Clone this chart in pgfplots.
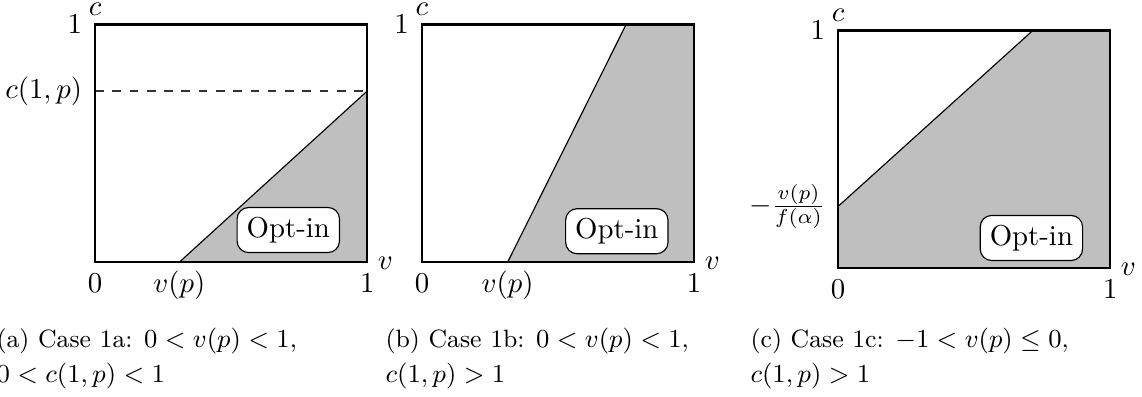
\documentclass[border=0pt]{standalone}
\usepackage{pgfplots}
\pgfplotsset{compat=1.18}

\pgfplotsset{
  panel/.style={
    scale only axis,
    width=94.5pt, height=82.5pt,
    xmin=0, xmax=1, ymin=0, ymax=1,
    axis on top,
    axis line style={thick},
    major tick length=0pt,
    xticklabel style={anchor=base, yshift=-10.4pt},
    yticklabel style={anchor=east, xshift=-1pt},
    xlabel={$v$}, ylabel={$c$},
    xlabel style={at={(rel axis cs:1,0)}, anchor=west, inner sep=3.5pt, yshift=-0.5pt},
    ylabel style={at={(rel axis cs:0,1)}, anchor=base, rotate=-90, yshift=3.1pt, inner sep=0pt},
  },
}
\tikzset{optin/.style={draw, thin, fill=white, rounded corners=4pt, inner sep=3.33pt}}

\begin{document}
\begin{tikzpicture}
% (a) case 1a
\begin{axis}[panel, at={(33pt,46.5pt)}, anchor=south west,
  xtick={0,0.31,1}, xticklabels={$0$,$v(p)$,$1$},
  ytick={0.72,1}, yticklabels={{$c(1,p)$},$1$}]
\addplot[fill=lightgray, draw=none] coordinates {(0.31,0) (1,0.72) (1,0) (0.31,0)};
\addplot[black, thin] coordinates {(0.31,0) (1,0.72)};
\addplot[black!80, thin, dashed] coordinates {(0,0.72) (1,0.72)};
\node[optin] at (axis cs:0.71,0.135) {Opt-in};
\end{axis}

% (b) case 1b
\begin{axis}[panel, at={(146.5pt,46.5pt)}, anchor=south west,
  xtick={0,0.315,1}, xticklabels={$0$,$v(p)$,$1$},
  ytick={1}, yticklabels={$1$}]
\addplot[fill=lightgray, draw=none] coordinates {(0.315,0) (0.75,1) (1,1) (1,0) (0.315,0)};
\addplot[black, thin] coordinates {(0.315,0) (0.75,1)};
\node[optin] at (axis cs:0.716,0.13) {Opt-in};
\end{axis}

% (c) case 1c
\begin{axis}[panel, at={(291pt,44.4pt)}, anchor=south west,
  xtick={0,1}, xticklabels={$0$,$1$},
  ytick={0.26,1}, yticklabels={{$-\frac{v(p)}{f(\alpha)}$},$1$}]
\addplot[fill=lightgray, draw=none] coordinates {(0,0) (0,0.26) (0.715,1) (1,1) (1,0) (0,0)};
\addplot[black, thin] coordinates {(0,0.26) (0.715,1)};
\node[optin] at (axis cs:0.71,0.127) {Opt-in};
\end{axis}

% captions
\begin{scope}[every node/.style={anchor=base west, inner sep=0pt, font=\fontsize{8.7}{11}\selectfont}]
\node at (-1.4pt,17pt) {(a) Case 1a: $0<v(p)<1$,};
\node at (-1.4pt,4.86pt) {$0<c(1,p)<1$};
\node at (133.7pt,17pt) {(b) Case 1b: $0<v(p)<1$,};
\node at (133.7pt,4.86pt) {$c(1,p)>1$};
\node at (260.4pt,17pt) {(c) Case 1c: $-1<v(p)\le 0$,};
\node at (260.4pt,4.86pt) {$c(1,p)>1$};
\end{scope}

\pgfresetboundingbox
\useasboundingbox (0,0) rectangle (396.5pt,137.5pt);
\end{tikzpicture}
\end{document}
